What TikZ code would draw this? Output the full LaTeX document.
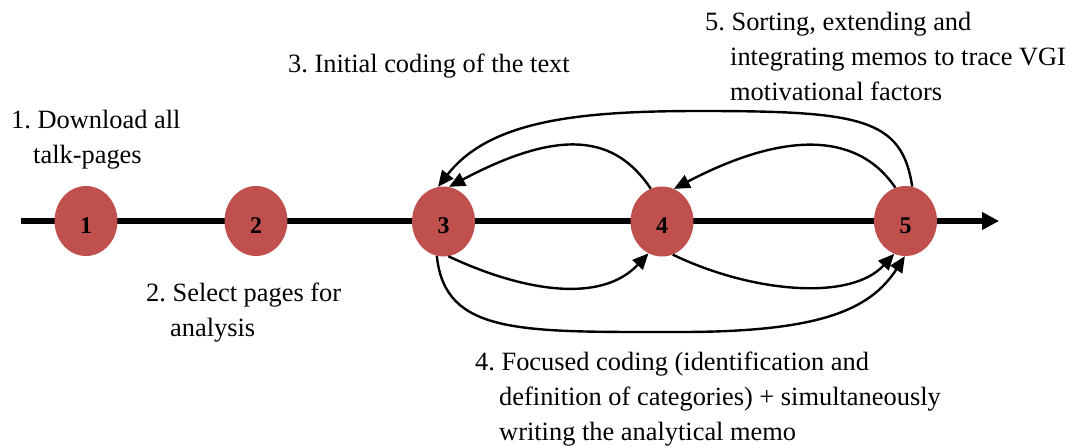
\documentclass[tikz,border=0pt]{standalone}
\usepackage{fontspec}
\setmainfont{Liberation Serif}
\usetikzlibrary{shapes.geometric,arrows.meta}
\definecolor{stagered}{HTML}{C0504D}
\frenchspacing
\begin{document}
\begin{tikzpicture}[x=1pt,y=-1pt,
  stage/.style={ellipse, fill=stagered, minimum width=63pt, minimum height=70pt,
    inner sep=0pt, font=\fontsize{24}{24}\selectfont\bfseries,
    text height=24pt, text depth=0pt},
  flow/.style={line width=2.4pt, -{Triangle[length=16pt,width=14pt]}},
  axis/.style={line width=5.5pt, -{Triangle[length=17pt,width=17pt]}},
  caption/.style={anchor=base west, align=left, inner sep=0pt,
    font=\fontsize{26.4}{35}\selectfont}]
\useasboundingbox (0,0) rectangle (1071,447);

% time axis
\coordinate (axisstart) at (21,221);
\coordinate (axisend) at (999,221);
\draw[axis] (axisstart) -- (axisend);

% stages
\node[stage] (c1) at (86,221) {1};
\node[stage] (c2) at (256,221) {2};
\node[stage] (c3) at (443.5,221.5) {3};
\node[stage] (c4) at (662,221.5) {4};
\node[stage] (c5) at (905.5,221) {5};

% feedback loops above the axis
\draw[flow] (c5.79) .. controls (902,118) and (860,111) .. (700,111)
  .. controls (580,111) and (490,120) .. (c3.99);
\draw[flow] (c4.109) .. controls (615,135) and (560,128) .. (c3.81);
\draw[flow] (c5.107) .. controls (860,135) and (790,128) .. (c4.70);

% forward loops below the axis
\draw[flow] (c3.-82) .. controls (520,290) and (600,305) .. (c4.-113);
\draw[flow] (c4.-72) .. controls (750,292) and (850,302) .. (c5.-109);
\draw[flow] (c3.-101) .. controls (445,335) and (520,332) .. (680,332)
  .. controls (820,332) and (870,310) .. (c5.-91);

% step descriptions (anchored at the baseline of their last line)
\node[caption] (t1) at (11,163) {1. Download all\\\hspace*{22pt}talk-pages};
\node[caption] (t2) at (146,336) {2. Select pages for\\\hspace*{24pt}analysis};
\node[caption] (t3) at (288,72) {3. Initial coding of the text};
\node[caption] (t4) at (475,440) {4. Focused coding (identification and\\\hspace*{24pt}definition of categories) + simultaneously\\\hspace*{24pt}writing the analytical memo};
\node[caption] (t5) at (705,100) {5. Sorting, extending and\\\hspace*{25pt}integrating memos to trace VGI\\\hspace*{25pt}motivational factors};
\end{tikzpicture}
\end{document}
